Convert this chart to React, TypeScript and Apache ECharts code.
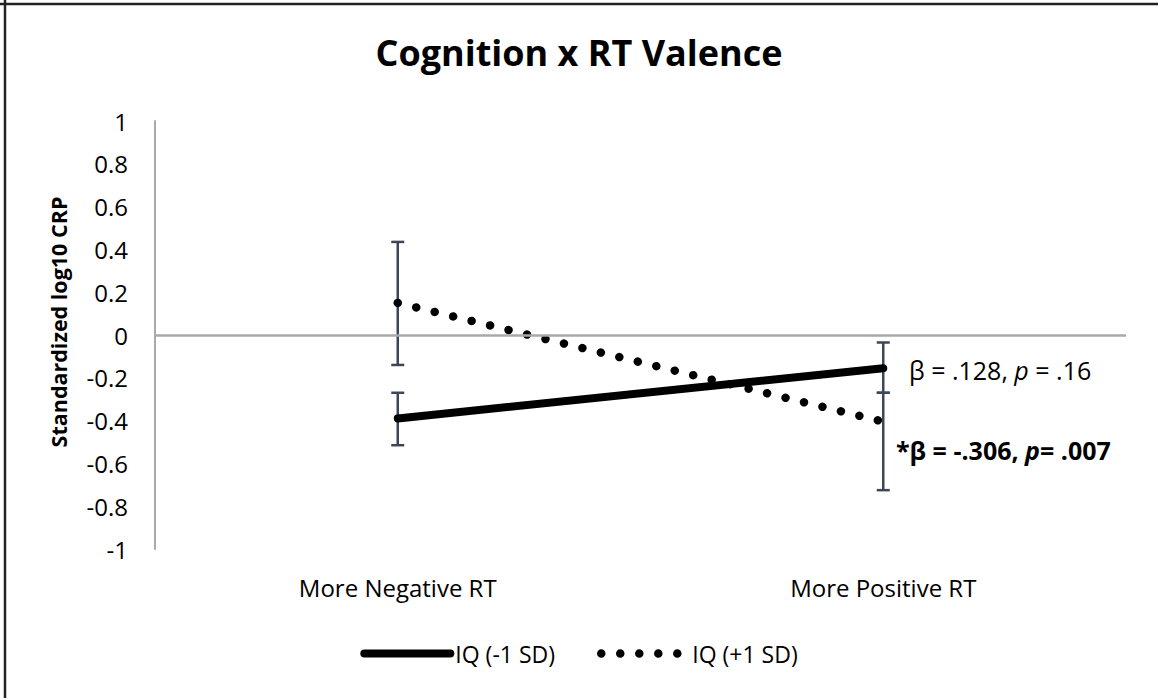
import React, { useEffect, useRef } from "react";
import * as echarts from "echarts";

// ---- data ----
const categories = ["More Negative RT", "More Positive RT"];
const seriesNames = ["IQ (-1 SD)", "IQ (+1 SD)"];
const lowIQValues = [-0.39, -0.155];
const lowIQErrLow = [-0.515, -0.27];
const lowIQErrHigh = [-0.27, -0.035];
const highIQValues = [0.15, -0.405];
const highIQErrLow = [-0.14, -0.725];
const highIQErrHigh = [0.435, -0.27];
const yMin = -1;
const yMax = 1;
const yInterval = 0.2;
const titleText = "Cognition x RT Valence";
const yAxisName = "Standardized log10 CRP";

const FONT = "'Open Sans', Lato, sans-serif";
const ERR_COLOR = "#3b4656";

function errorBarSeries(name: string, lows: number[], highs: number[]) {
  return {
    type: "custom",
    name,
    z: 3,
    silent: true,
    data: categories.map((_, i) => [i, lows[i], highs[i]]),
    encode: { x: 0, y: [1, 2] },
    renderItem: (params: any, api: any) => {
      const x = api.value(0);
      const lo = api.coord([x, api.value(1)]);
      const hi = api.coord([x, api.value(2)]);
      const hw = 6.5;
      const style = { stroke: ERR_COLOR, lineWidth: 2.5 };
      return {
        type: "group",
        children: [
          { type: "line", shape: { x1: lo[0], y1: lo[1], x2: hi[0], y2: hi[1] }, style },
          { type: "line", shape: { x1: lo[0] - hw, y1: lo[1], x2: lo[0] + hw, y2: lo[1] }, style },
          { type: "line", shape: { x1: hi[0] - hw, y1: hi[1], x2: hi[0] + hw, y2: hi[1] }, style },
        ],
      };
    },
  };
}

export default function App() {
  const ref = useRef<HTMLDivElement>(null);
  useEffect(() => {
    if (!ref.current) return;
    const chart = echarts.init(ref.current, undefined, { renderer: "svg" });
    chart.setOption({
      animation: false,
      backgroundColor: "#ffffff",
      title: {
        text: titleText,
        left: "center",
        top: 29,
        textStyle: { fontFamily: FONT, fontWeight: "bold", fontSize: 36, color: "#000" },
      },
      grid: { left: 155, right: 32, top: 121, bottom: 149 },
      legend: {
        data: seriesNames,
        left: "center",
        top: 637,
        itemWidth: 86,
        itemHeight: 14,
        itemGap: 42,
        lineStyle: { width: "inherit" },
        itemStyle: { opacity: 0 },
        textStyle: { fontFamily: FONT, fontSize: 23, color: "#000" },
      },
      xAxis: {
        type: "category",
        data: categories,
        axisLine: { show: false },
        axisTick: { show: false },
        axisLabel: { margin: 26, fontFamily: FONT, fontSize: 24, color: "#000" },
        splitLine: { show: false },
      },
      yAxis: {
        type: "value",
        min: yMin,
        max: yMax,
        interval: yInterval,
        axisLine: { show: true, lineStyle: { color: "#a9a9a9", width: 2 } },
        axisTick: { show: false },
        splitLine: { show: false },
        axisLabel: { margin: 27, fontFamily: FONT, fontSize: 24, color: "#000" },
      },
      series: [
        {
          type: "line",
          name: seriesNames[0],
          data: lowIQValues,
          symbol: "none",
          z: 4,
          lineStyle: { color: "#000", width: 8, cap: "round" },
          itemStyle: { color: "#000" },
          markLine: {
            silent: true,
            symbol: "none",
            label: { show: false },
            lineStyle: { color: "#a9a9a9", width: 2.5, type: "solid" },
            data: [{ yAxis: 0 }],
          },
        },
        {
          type: "line",
          name: seriesNames[1],
          data: highIQValues,
          symbol: "none",
          z: 4,
          lineStyle: { color: "#000", width: 8.5, type: [0.01, 19], cap: "round" },
          itemStyle: { color: "#000" },
        },
        errorBarSeries("err-low", lowIQErrLow, lowIQErrHigh),
        errorBarSeries("err-high", highIQErrLow, highIQErrHigh),
      ],
      graphic: [
        { type: "line", shape: { x1: 0, y1: 4, x2: 1158, y2: 4 }, style: { stroke: "#222", lineWidth: 2.5 } },
        { type: "line", shape: { x1: 5, y1: 0, x2: 5, y2: 698 }, style: { stroke: "#222", lineWidth: 2.5 } },
        {
          type: "text",
          x: 58,
          y: 322,
          rotation: Math.PI / 2,
          style: {
            text: yAxisName,
            fontFamily: FONT,
            fontSize: 21.5,
            fontWeight: "bold",
            fill: "#000",
            align: "center",
            verticalAlign: "middle",
          },
        },
        {
          type: "text",
          left: 909,
          top: 357,
          style: {
            text: "{a|β = .128, }{i|p}{a| = .16}",
            rich: {
              a: { fontFamily: FONT, fontSize: 25, fill: "#000" },
              i: { fontFamily: FONT, fontSize: 25, fontStyle: "italic", fill: "#000" },
            },
          },
        },
        {
          type: "text",
          left: 896,
          top: 437,
          style: {
            text: "{a|*β = -.306, }{i|p}{a|= .007}",
            rich: {
              a: { fontFamily: FONT, fontSize: 25, fontWeight: "bold", fill: "#000" },
              i: { fontFamily: FONT, fontSize: 25, fontWeight: "bold", fontStyle: "italic", fill: "#000" },
            },
          },
        },
      ],
    });
    return () => chart.dispose();
  }, []);
  return (
    <div
      ref={ref}
      style={{ position: "fixed", left: 0, top: 0, width: 1158, height: 698, background: "#fff" }}
    />
  );
}
